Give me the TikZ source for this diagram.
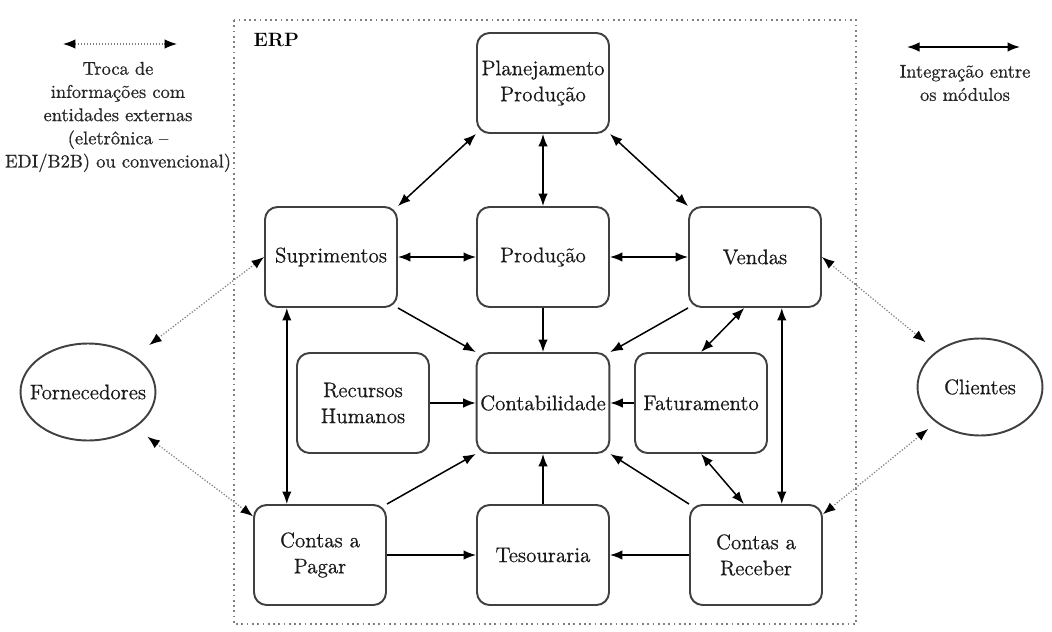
\documentclass[tikz,border=0pt]{standalone}
\usepackage{fontspec}
\newfontfamily\rotulo{Latin Modern Roman}[FakeBold=0.7]
\usepackage{tikz}
\usetikzlibrary{positioning, arrows.meta, shapes.geometric, calc}

\begin{document}
\begin{tikzpicture}[x=0.02cm, y=-0.02cm, >={Latex[length=2.5mm, width=1.9mm]}, line width=0.85pt,
    modulo/.style={draw=black!75, line width=1.1pt, rectangle, rounded corners=2.5mm, minimum width=2.64cm,
      minimum height=2cm, align=center, inner sep=2pt, text=black!90, font=\rotulo\fontsize{12}{14.8}\selectfont},
    entidade/.style={draw=black!75, line width=1.1pt, ellipse, minimum height=1.94cm, inner sep=0pt,
      text=black!90, font=\rotulo\fontsize{12}{14.8}\selectfont},
    legenda/.style={align=center, text=black!85, font=\rotulo\fontsize{10.5}{13.2}\selectfont},
    integra/.style={<->},
    troca/.style={{Latex[length=2.5mm, width=1.9mm, color=black]}-{Latex[length=2.5mm, width=1.9mm, color=black]},
      densely dotted, line width=0.7pt, draw=black!50}]
  \useasboundingbox (0,0) rectangle (1052,632);

  % moldura do ERP
  \draw[dotted, line width=1pt, black!50] (234,20) rectangle (856,624);
  \node[anchor=west, font=\fontsize{11}{13}\selectfont\bfseries] (erp) at (247,40) {ERP};

  % modulos
  \node[modulo] (plan) at (543,83) {Planejamento\\Produção};
  \node[modulo] (supr) at (331,257) {Suprimentos};
  \node[modulo] (prod) at (543,257) {Produção};
  \node[modulo] (vend) at (755,257) {Vendas};
  \node[modulo] (rh) at (363,403) {Recursos\\Humanos};
  \node[modulo] (cont) at (543,403) {Contabilidade};
  \node[modulo] (fat) at (701,403) {Faturamento};
  \node[modulo] (cpag) at (320,555) {Contas a\\Pagar};
  \node[modulo] (tes) at (543,555) {Tesouraria};
  \node[modulo] (crec) at (756,555) {Contas a\\Receber};

  % entidades externas
  \node[entidade, minimum width=2.7cm, inner xsep=-0.21cm] (forn) at (88,392) {Fornecedores};
  \node[entidade, minimum width=2.5cm] (cli) at (980,387) {Clientes};

  % legendas
  \coordinate (ltrocaA) at (63,44);
  \coordinate (ltrocaB) at (177,44);
  \draw[troca] (ltrocaA) -- (ltrocaB);
  \node[legenda] (ltroca) at (118,117) {Troca de\\informações com\\entidades externas\\(eletrônica –\\EDI/B2B) ou convencional)};
  \coordinate (lintegA) at (907,47);
  \coordinate (lintegB) at (1020,47);
  \draw[integra] (lintegA) -- (lintegB);
  \node[legenda] (linteg) at (965,83) {Integração entre\\os módulos};

  % integracao entre os modulos
  \draw[integra] (plan.south west) -- (supr.north east);
  \draw[integra] (plan) -- (prod);
  \draw[integra] (plan.south east) -- (vend.north west);
  \draw[integra] (supr) -- (prod);
  \draw[integra] (prod) -- (vend);
  \draw[->] (supr.south east) -- (cont.north west);
  \draw[->] (prod) -- (cont);
  \draw[->] (vend.south west) -- (cont.north east);
  \draw[->] (rh) -- (cont);
  \draw[->] (fat) -- (cont);
  \draw[->] (cpag.north east) -- (cont.south west);
  \draw[->] (cpag) -- (tes);
  \draw[->] (tes) -- (cont);
  \draw[->] (crec.north west) -- (cont.south east);
  \draw[->] (crec) -- (tes);
  \draw[integra] ($(vend.south west)!0.42!(vend.south east)$) -- (fat.north);
  \draw[integra] (fat.south) -- ($(crec.north west)!0.41!(crec.north east)$);
  \coordinate (sv) at ($(supr.south west)!0.17!(supr.south east)$);
  \draw[integra] (sv) -- (sv |- cpag.north);
  \coordinate (vv) at ($(vend.south west)!0.7!(vend.south east)$);
  \draw[integra] (vv) -- (vv |- crec.north);

  % troca com entidades externas
  \draw[troca, shorten <=0.36cm] (forn) -- (supr.west);
  \draw[troca, shorten <=0.3cm] (forn) -- ($(cpag.north west)!0.12!(cpag.south west)$);
  \draw[troca, shorten >=0.28cm] (vend.east) -- (cli);
  \draw[troca, shorten >=0.2cm] ($(crec.north east)!0.1!(crec.south east)$) -- (cli);
\end{tikzpicture}
\end{document}
